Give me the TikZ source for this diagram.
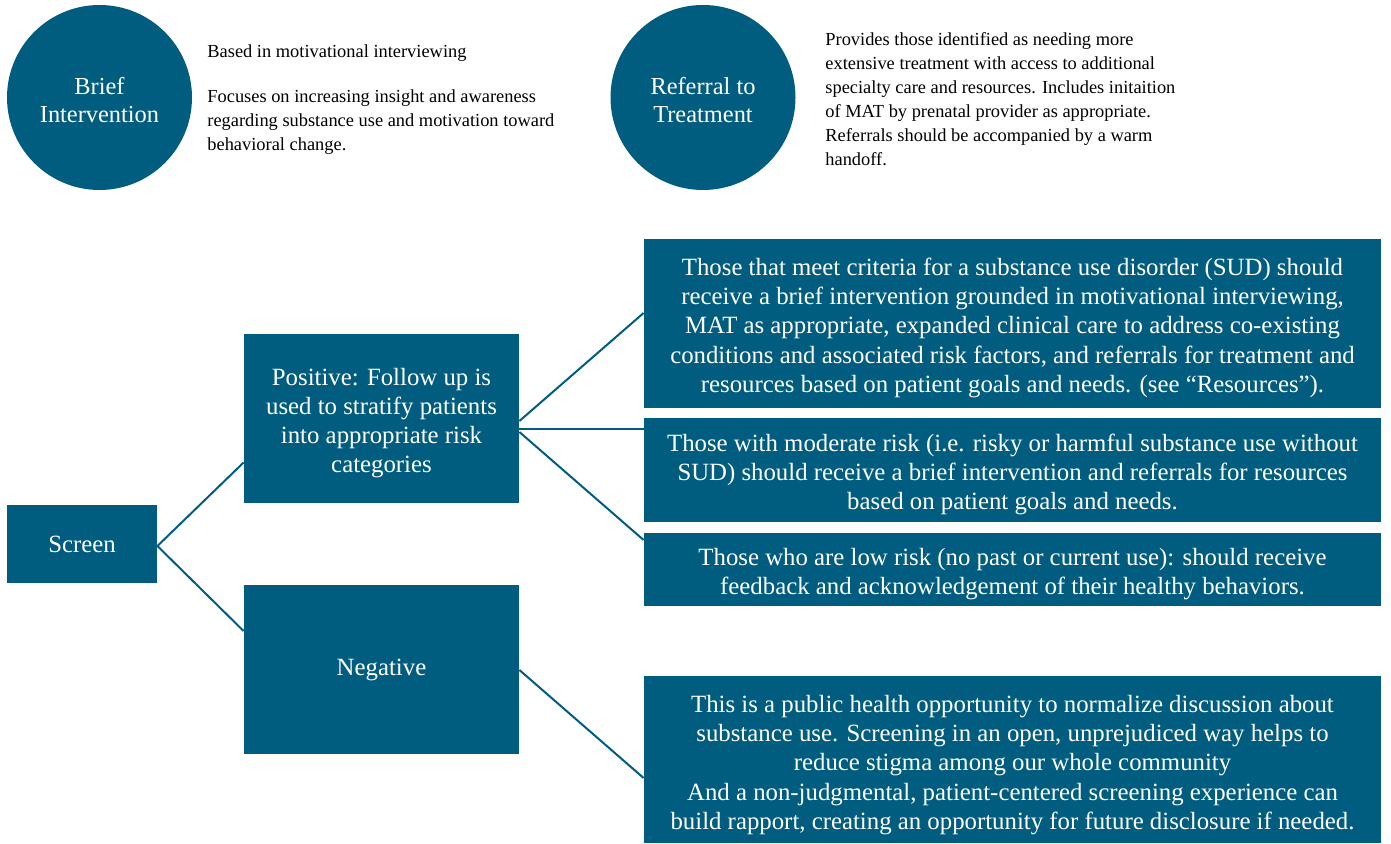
\documentclass[tikz,border=0pt]{standalone}
\usepackage{fontspec}
\setmainfont{Liberation Serif}
\usepackage{tikz}
\usetikzlibrary{shapes}
\definecolor{sbirt}{RGB}{0,93,128}
\tikzset{
	main node/.style={circle,fill=sbirt,text=white,minimum size=92.5pt,inner sep=0pt,align=center,
	  font=\fontsize{12.2}{14}\selectfont},
	box node/.style={rectangle,fill=sbirt,text=white,inner sep=0pt,align=center,font=\fontsize{12.4}{14.6}\selectfont},
	note/.style={anchor=north west,inner sep=0pt,align=left,font=\fontsize{9.2}{12}\selectfont},
	link/.style={draw=sbirt,line width=1pt}
}
\newcommand{\topgap}[1]{\rule{0pt}{#1}}

\begin{document}
\begin{tikzpicture}[x=0.5pt,y=-0.5pt]
            \useasboundingbox (0,0) rectangle (1391,844);
            % top row
            \node [main node] (bi) at (99.5,97.5) {\topgap{11.5pt}Brief\\Intervention};
            \node [main node] (rt) at (703,97.5) {\topgap{11.5pt}Referral to\\Treatment};
            \node [note] (bitext) at (207,44) {Based in motivational interviewing\\[10.5pt]
              Focuses on increasing insight and awareness\\
              regarding substance use and motivation toward\\
              behavioral change.};
            \node [note] (rttext) at (825,32) {Provides those identified as needing more\\
              extensive treatment with access to additional\\
              specialty care and resources. Includes initaition\\
              of MAT by prenatal provider as appropriate.\\
              Referrals should be accompanied by a warm\\
              handoff.};
            % hierarchy
            \node [box node,minimum width=75pt,minimum height=39pt] (screen) at (82,544) {Screen};
            \node [box node,minimum width=137.5pt,minimum height=84.5pt] (pos) at (381.5,418.5)
              {\topgap{13pt}Positive: Follow up is\\used to stratify patients\\into appropriate risk\\categories};
            \node [box node,minimum width=137.5pt,minimum height=84.5pt] (neg) at (381.5,669.5) {Negative};
            \node [box node,minimum width=368.5pt,minimum height=84.5pt] (sud) at (1012.5,323.5)
              {\topgap{13pt}Those that meet criteria for a substance use disorder (SUD) should\\
               receive a brief intervention grounded in motivational interviewing,\\
               MAT as appropriate, expanded clinical care to address co-existing\\
               conditions and associated risk factors, and referrals for treatment and\\
               resources based on patient goals and needs. (see ``Resources'').};
            \node [box node,minimum width=368.5pt,minimum height=52pt] (mod) at (1012.5,470)
              {\topgap{13pt}Those with moderate risk (i.e. risky or harmful substance use without\\
               SUD) should receive a brief intervention and referrals for resources\\
               based on patient goals and needs.};
            \node [box node,minimum width=368.5pt,minimum height=36.5pt] (low) at (1012.5,569.5)
              {\topgap{13pt}Those who are low risk (no past or current use): should receive\\
               feedback and acknowledgement of their healthy behaviors.};
            \node [box node,minimum width=368.5pt,minimum height=83.5pt] (pub) at (1012.5,759.5)
              {\topgap{14pt}This is a public health opportunity to normalize discussion about\\
               substance use. Screening in an open, unprejudiced way helps to\\
               reduce stigma among our whole community\\
               And a non-judgmental, patient-centered screening experience can\\
               build rapport, creating an opportunity for future disclosure if needed.};
            \draw [link] ([yshift=-1pt]screen.east) -- ([yshift=-22pt]pos.west);
            \draw [link] ([yshift=-1pt]screen.east) -- ([yshift=19.25pt]neg.west);
            \draw [link] ([yshift=-1.25pt]pos.east) -- ([yshift=5.25pt]sud.west);
            \draw [link] ([yshift=-5.25pt]pos.east) -- ([yshift=20.5pt]mod.west);
            \draw [link] ([yshift=-6.75pt]pos.east) -- ([yshift=14.75pt]low.west);
            \draw [link] ([yshift=-0.25pt]neg.east) -- ([yshift=-9.25pt]pub.west);
          \end{tikzpicture}
\end{document}
